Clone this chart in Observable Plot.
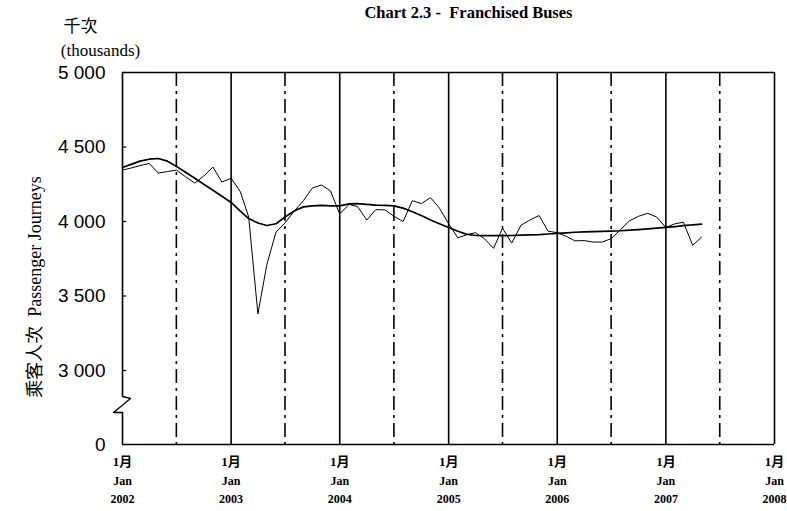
<!DOCTYPE html>
<html>
<head>
<meta charset="utf-8">
<script src="https://cdn.jsdelivr.net/npm/d3@7"></script>
<script src="https://cdn.jsdelivr.net/npm/@observablehq/plot@0.6"></script>
<style>
  html, body { margin: 0; padding: 0; background: #fff; }
</style>
</head>
<body>
<div id="chart"></div>
<script>
// ---- data (thousands of passenger journeys, monthly, Jan 2002 – May 2007) ----
const startYear = 2002;
const actual2002 = [4345, 4360, 4375, 4390, 4325, 4335, 4345, 4300, 4258, 4305, 4365, 4265];
const actual2003 = [4290, 4200, 4030, 3380, 3710, 3930, 3990, 4070, 4140, 4225, 4245, 4205];
const actual2004 = [4050, 4115, 4100, 4010, 4080, 4078, 4035, 4000, 4140, 4120, 4160, 4090];
const actual2005 = [3985, 3890, 3910, 3925, 3885, 3820, 3955, 3855, 3975, 4010, 4040, 3935];
const actual2006 = [3925, 3900, 3870, 3872, 3862, 3862, 3885, 3945, 4005, 4035, 4055, 4030];
const actual2007 = [3960, 3985, 3995, 3840, 3895];

const trend2002 = [4362, 4385, 4405, 4418, 4423, 4405, 4370, 4330, 4290, 4250, 4210, 4170];
const trend2003 = [4128, 4070, 4020, 3990, 3973, 3985, 4030, 4070, 4098, 4105, 4108, 4105];
const trend2004 = [4105, 4118, 4120, 4115, 4110, 4108, 4105, 4090, 4065, 4040, 4010, 3985];
const trend2005 = [3960, 3935, 3915, 3906, 3905, 3905, 3905, 3906, 3908, 3910, 3912, 3916];
const trend2006 = [3920, 3924, 3928, 3930, 3932, 3934, 3936, 3938, 3942, 3946, 3950, 3955];
const trend2007 = [3960, 3966, 3972, 3978, 3982];

const yTicks = [0, 3000, 3500, 4000, 4500, 5000];
const xYears = [2002, 2003, 2004, 2005, 2006, 2007, 2008];
const xLabelMonth = "1月";
const xLabelJan = "Jan";
const titleText = "Chart 2.3 -\u00a0 Franchised Buses";
const unitZh = "千次";
const unitEn = "(thousands)";
const yLabel = "乘客人次\u00a0 Passenger Journeys";
// axis break (value span hidden between 0 and 3 000)
const breakTop = 1946, breakKink = 1865, breakBottom = 1297;

// ---- build tables ----
const actual = [actual2002, actual2003, actual2004, actual2005, actual2006, actual2007].flat();
const trend = [trend2002, trend2003, trend2004, trend2005, trend2006, trend2007].flat();
const dateOf = i => new Date(Date.UTC(startYear + Math.floor(i / 12), i % 12, 1));
const actualData = actual.map((v, i) => ({date: dateOf(i), value: v}));
const trendData = trend.map((v, i) => ({date: dateOf(i), value: v}));
const jan = y => new Date(Date.UTC(y, 0, 1));
const jul = y => new Date(Date.UTC(y, 6, 1));
const day = 864e5;
const x0 = jan(2002);
const innerJans = xYears.slice(1).map(jan);
const julys = xYears.slice(0, -1).map(jul);
const fmt = d => d === 0 ? "0" : d3.format(",")(d).replace(/,/g, " ");

const serif = "Liberation Serif, Times New Roman, Noto Sans CJK TC, serif";
const sans = "Liberation Sans, Arial, sans-serif";
const cjk = "Noto Sans CJK TC, sans-serif";

const plot = Plot.plot({
  width: 787,
  height: 511,
  marginLeft: 122,
  marginRight: 13,
  marginTop: 72,
  marginBottom: 67,
  style: {fontFamily: serif, fontSize: "19px", background: "#fff", color: "#000"},
  x: {type: "utc", domain: [jan(2002), jan(2008)], axis: null},
  y: {type: "linear", domain: [0, 3000, 5000], range: [444, 370, 72], axis: null},
  marks: [
    // yearly solid lines and right border
    Plot.ruleX(innerJans, {stroke: "#000", strokeWidth: 1.6}),
    // mid-year dash-dot lines
    Plot.ruleX(julys, {stroke: "#000", strokeWidth: 1.6, strokeDasharray: "14,5,3,5"}),
    // top and bottom borders
    Plot.ruleY([0, 5000], {stroke: "#000", strokeWidth: 1.6}),
    // left axis with break
    Plot.ruleX([{a: 5000, b: breakTop}, {a: breakBottom, b: 0}], {x: () => x0, y1: "a", y2: "b", stroke: "#000", strokeWidth: 1.6}),
    Plot.line([
      {date: x0, value: breakTop},
      {date: new Date(+x0 + 27 * day), value: breakKink},
      {date: new Date(+x0 - 30 * day), value: breakBottom},
      {date: x0, value: breakBottom}
    ], {x: "date", y: "value", stroke: "#000", strokeWidth: 1.3}),
    // inward y tick marks
    Plot.ruleY(yTicks.filter(t => t > 0 && t < 5000), {x1: () => x0, x2: () => new Date(+x0 + 14 * day), stroke: "#000", strokeWidth: 1.2}),
    // data
    Plot.line(actualData, {x: "date", y: "value", stroke: "#000", strokeWidth: 1}),
    Plot.line(trendData, {x: "date", y: "value", stroke: "#000", strokeWidth: 1.7}),
    // y tick labels
    Plot.text(yTicks, {y: d => d, text: fmt, frameAnchor: "left", textAnchor: "end", dx: -17, fontSize: 19, fontFamily: sans}),
    // x tick labels (three lines)
    Plot.text(xYears, {x: jan, text: () => xLabelMonth, frameAnchor: "bottom", dy: 21, fontSize: 13, fontWeight: "bold", fontFamily: serif}),
    Plot.text(xYears, {x: jan, text: () => xLabelJan, frameAnchor: "bottom", dy: 40, fontSize: 12, fontWeight: "bold", fontFamily: serif}),
    Plot.text(xYears, {x: jan, text: d => String(d), frameAnchor: "bottom", dy: 58, fontSize: 12, fontWeight: "bold", fontFamily: serif}),
    // title & units
    Plot.text([titleText], {text: d => d, frameAnchor: "top-left", textAnchor: "middle", dx: 346, dy: -66, fontSize: 16.5, fontWeight: "bold", fontFamily: serif}),
    Plot.text([unitZh], {text: d => d, frameAnchor: "top-left", textAnchor: "middle", dx: -42, dy: -53, fontSize: 17, fontFamily: cjk}),
    Plot.text([unitEn], {text: d => d, frameAnchor: "top-left", textAnchor: "middle", dx: -22, dy: -29, fontSize: 17, fontFamily: serif}),
    // y axis label
    Plot.text([yLabel], {x: () => x0, y: () => 3560, text: d => d, rotate: -90, dx: -87, fontSize: 18, fontFamily: serif})
  ]
});
document.getElementById("chart").appendChild(plot);
</script>
</body>
</html>
